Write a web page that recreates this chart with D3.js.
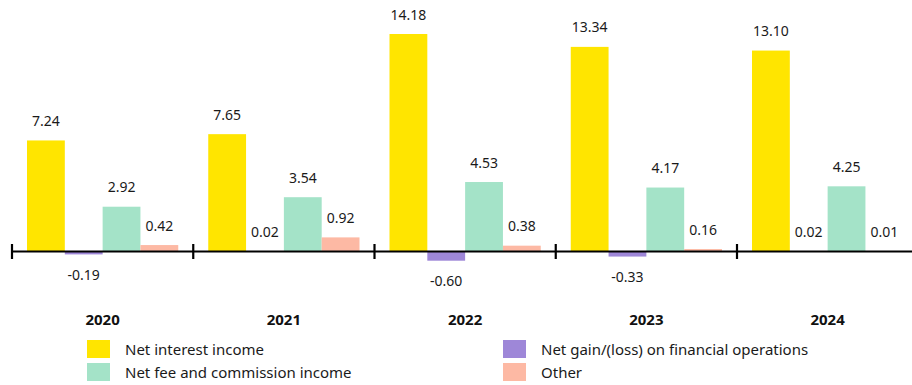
<!DOCTYPE html>
<html>
<head>
<meta charset="utf-8">
<script src="https://cdn.jsdelivr.net/npm/d3@7"></script>
<style>
  html, body { margin: 0; padding: 0; background: #fff; }
  svg { display: block; font-family: "Noto Sans", sans-serif; }
</style>
</head>
<body>
<svg id="chart" width="912" height="385"></svg>
<script>
const years = ["2020", "2021", "2022", "2023", "2024"];
const seriesNames = ["Net interest income", "Net gain/(loss) on financial operations", "Net fee and commission income", "Other"];
const netInterest = [7.24, 7.65, 14.18, 13.34, 13.10];
const netGain = [-0.19, 0.02, -0.60, -0.33, 0.02];
const netFee = [2.92, 3.54, 4.53, 4.17, 4.25];
const other = [0.42, 0.92, 0.38, 0.16, 0.01];
const colors = ["#FFE500", "#9E87D8", "#A4E3C8", "#FDB9A4"];
const legendOrder = [0, 2, 1, 3];

const seriesValues = [netInterest, netGain, netFee, other];
const data = years.map((y, i) => ({
  year: y,
  values: seriesNames.map((s, k) => ({ key: s, idx: k, value: seriesValues[k][i] }))
}));

const svg = d3.select("#chart");
const bandW = 181.25;
const x0 = d3.scaleBand().domain(years).range([12, 12 + bandW * years.length]).padding(0);
const x1 = d3.scaleBand().domain(seriesNames).range([15, bandW - 15]).padding(0);
const zeroY = 251.5;
const y = d3.scaleLinear().domain([0, 14.18]).range([zeroY, 34]);

const groups = svg.selectAll("g.year").data(data).enter().append("g")
  .attr("class", "year")
  .attr("transform", d => `translate(${x0(d.year)},0)`);

groups.selectAll("rect").data(d => d.values).enter().append("rect")
  .attr("x", d => x1(d.key))
  .attr("width", x1.bandwidth())
  .attr("y", d => d.value >= 0 ? y(d.value) : y(0))
  .attr("height", d => Math.abs(y(d.value) - y(0)))
  .attr("fill", d => colors[d.idx]);

groups.selectAll("text.val").data(d => d.values).enter().append("text")
  .attr("class", "val")
  .attr("x", d => x1(d.key) + x1.bandwidth() / 2)
  .attr("y", d => d.value >= 0 ? y(d.value) - 20 : y(d.value) + 20)
  .attr("text-anchor", "middle")
  .attr("dominant-baseline", "central")
  .attr("font-size", 14)
  .attr("fill", "#1a1a1a")
  .text(d => d.value.toFixed(2));

// axis
const axisG = svg.append("g");
axisG.append("line")
  .attr("x1", x0.range()[0]).attr("x2", 912)
  .attr("y1", zeroY).attr("y2", zeroY)
  .attr("stroke", "#000").attr("stroke-width", 2.2);
axisG.selectAll("line.tick").data(years).enter().append("line")
  .attr("class", "tick")
  .attr("x1", d => x0(d)).attr("x2", d => x0(d))
  .attr("y1", 244).attr("y2", 259)
  .attr("stroke", "#000").attr("stroke-width", 2.2);
axisG.selectAll("text.yr").data(years).enter().append("text")
  .attr("class", "yr")
  .attr("x", d => x0(d) + x0.bandwidth() / 2)
  .attr("y", 318.5)
  .attr("text-anchor", "middle")
  .attr("dominant-baseline", "central")
  .attr("font-size", 15)
  .attr("font-weight", "bold")
  .attr("fill", "#111")
  .text(d => d);

// legend
const legendPos = [[87, 340], [87, 363], [503, 340], [503, 363]];
const lg = svg.append("g").selectAll("g").data(legendOrder).enter().append("g")
  .attr("transform", (d, i) => `translate(${legendPos[i][0]},${legendPos[i][1]})`);
lg.append("rect").attr("width", 23).attr("height", 18).attr("fill", d => colors[d]);
lg.append("text").attr("x", 38).attr("y", 9)
  .attr("dominant-baseline", "central")
  .attr("font-size", 15).attr("fill", "#1a1a1a")
  .text(d => seriesNames[d]);
</script>
</body>
</html>
